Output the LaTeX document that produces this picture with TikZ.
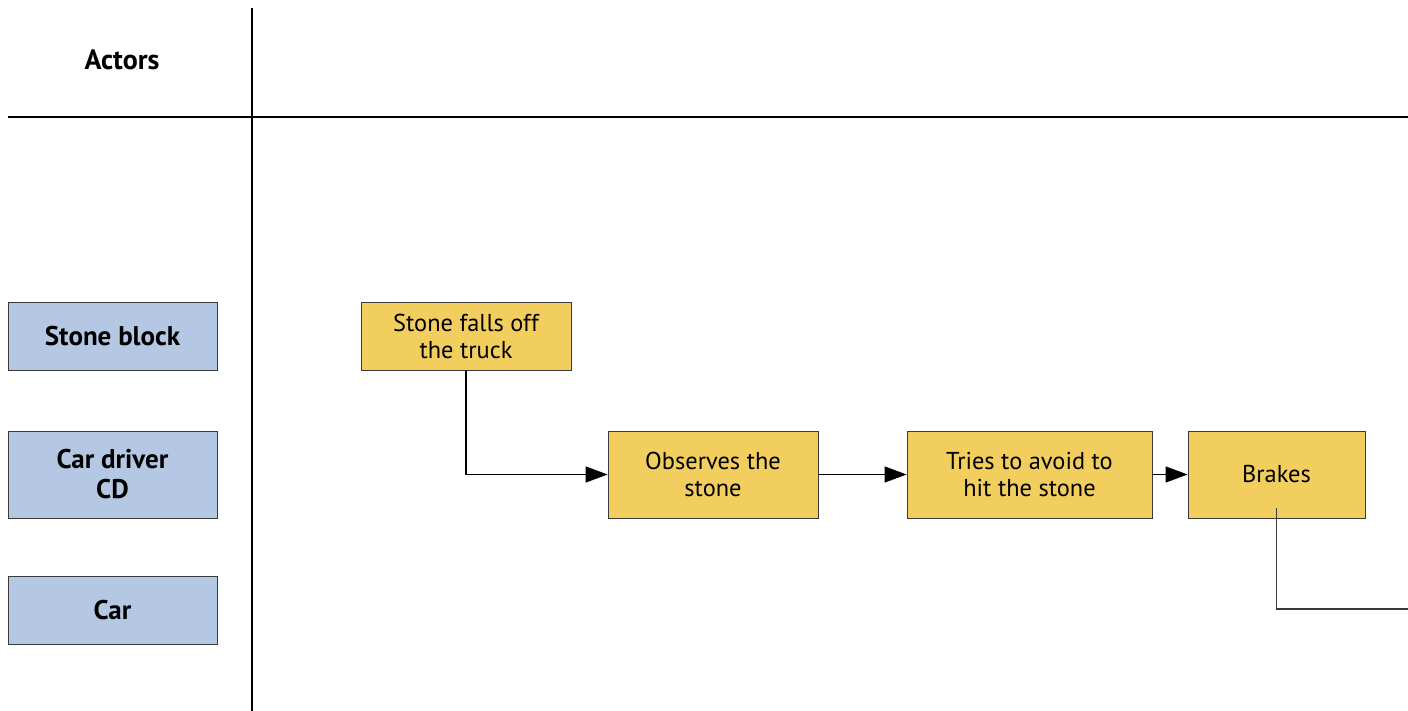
\documentclass[tikz,border=0pt]{standalone}
\usepackage{fontspec}
\setmainfont{PT Sans}
\usepackage{xcolor}
\usetikzlibrary{arrows.meta, positioning, calc}
\definecolor{actorBlue}{HTML}{B4C7E3}
\definecolor{eventYellow}{HTML}{F2CE5F}
\definecolor{boxLine}{HTML}{3A3A3A}
\tikzstyle{actor} = [rectangle, minimum width=104.5pt, minimum height=34pt, text centered, align=center, draw=boxLine, fill=actorBlue, font=\fontsize{13.5}{15}\selectfont\bfseries, inner sep=0pt]
\tikzstyle{event} = [rectangle, minimum height=34pt, text centered, align=center, draw=boxLine, fill=eventYellow, font=\fontsize{12.2}{13.5}\selectfont, inner sep=0pt]
\tikzstyle{arrow} = [line width=0.6pt, -{Triangle[length=11pt,width=8pt]}]
\tikzstyle{lane} = [line width=1pt]

\begin{document}
\begin{tikzpicture}[x=0.5pt, y=-0.5pt]
\useasboundingbox (0,0) rectangle (1408,711);

% lanes
\draw [lane] (252,8) -- (252,711);
\draw [lane] (8,117) -- (1408,117);
\node (actors) [font=\fontsize{14}{15}\selectfont\bfseries] at (122,60) {Actors};

% actors
\node (stoneblock) [actor] at (112.5,336) {Stone block};
\node (driver) [actor, minimum height=43.5pt] at (112.5,474.5) {Car driver\\CD};
\node (car) [actor] at (112.5,610.5) {Car};

% events
\node (falls) [event, minimum width=105pt] at (466,336) {Stone falls off\\the truck};
\node (observes) [event, minimum width=105pt, minimum height=43.5pt] at (713,474.5) {Observes the\\stone};
\node (tries) [event, minimum width=122.5pt, minimum height=43.5pt] at (1029.5,474.5) {Tries to avoid to\\hit the stone};
\node (brakes) [event, minimum width=88.5pt, minimum height=43.5pt] at (1276.5,474.5) {Brakes};
\coordinate (out) at (1408,609);

\draw [arrow] (falls.south) |- (observes.west);
\draw [arrow] (observes) -- (tries);
\draw [arrow] (tries) -- (brakes);
\draw [line width=0.6pt, draw=boxLine] ($(brakes.south)+(0,-10)$) |- (out);

\end{tikzpicture}
\end{document}
